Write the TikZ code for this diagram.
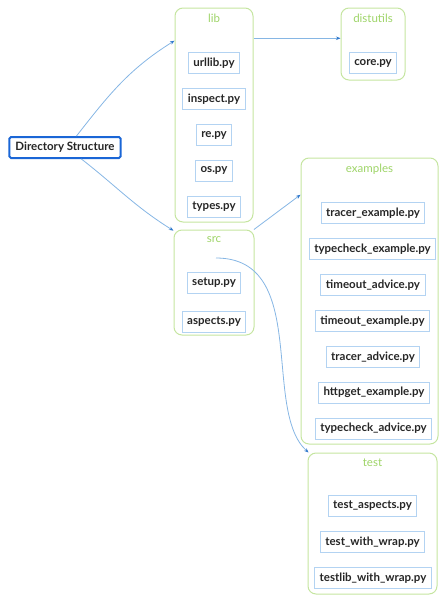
\documentclass[tikz,border=0pt]{standalone}
\usepackage{fontspec}
\setmainfont{Lato}
\usetikzlibrary{arrows.meta}
\definecolor{folderline}{HTML}{C5E5A0}
\definecolor{foldertext}{HTML}{9ED468}
\definecolor{fileline}{HTML}{B3D3F2}
\definecolor{rootline}{HTML}{1A66D6}
\definecolor{linkline}{HTML}{86B6E4}
\definecolor{linktip}{HTML}{2F78CC}
\tikzset{
  folder/.style={draw=folderline, line width=1pt, rounded corners=8pt},
  foldername/.style={text=foldertext, font=\fontsize{11.5}{13}\selectfont},
  file/.style={draw=fileline, line width=1pt, fill=white, inner xsep=5pt,
    minimum height=21pt, text=black!85, font=\fontsize{11.5}{13}\selectfont\bfseries},
  root/.style={draw=rootline, line width=2pt, rounded corners=1.5pt, fill=white,
    inner xsep=6pt, minimum height=21pt, text=black!85,
    font=\fontsize{11.5}{13}\selectfont\bfseries},
  link/.style={draw=linkline, line width=0.8pt,
    -{Stealth[length=4.5pt,width=3.5pt,color=linktip]}},
}

\begin{document}
\begin{tikzpicture}[x=1pt,y=1pt]
  \useasboundingbox (0,0) rectangle (440,-595);
  % folders
  \node[folder, minimum width=78pt, minimum height=214pt] (lib) at (214,-115) {};
  \node[folder, minimum width=64pt, minimum height=72pt] (dist) at (373,-44) {};
  \node[folder, minimum width=80pt, minimum height=105pt] (src) at (214,-282.5) {};
  \node[folder, minimum width=137pt, minimum height=286pt] (ex) at (369.5,-301) {};
  \node[folder, minimum width=129pt, minimum height=141pt] (test) at (372.5,-523.5) {};
  \node[foldername] (libname) at (214,-18) {lib};
  \node[foldername] (distname) at (373,-18) {distutils};
  \node[foldername] (srcname) at (214,-240) {src};
  \node[foldername] (exname) at (369.5,-169) {examples};
  \node[foldername] (testname) at (372.5,-463) {test};

  \node[root] (ds) at (65,-147.5) {Directory Structure};
  \coordinate (srcmid) at (216,-258);

  % links
  \draw[link] (ds.45) to[out=52,in=212] (lib.118);
  \draw[link] (ds.-35) to[out=-38,in=148] (src.128);
  \draw[link] (lib.east |- dist.170) -- (dist.170);
  \draw[link] (src.53) -- (ex.123);
  \draw[link] (srcmid) .. controls +(94,0) and +(-47,42) .. (test.132);

  % files
  \node[file] (urllib) at (214,-63) {urllib.py};
  \node[file] (inspect) at (214,-99) {inspect.py};
  \node[file] (re) at (214,-135) {re.py};
  \node[file] (os) at (214,-170.5) {os.py};
  \node[file] (types) at (214,-206.5) {types.py};
  \node[file] (core) at (373,-63) {core.py};
  \node[file] (setup) at (214,-283) {setup.py};
  \node[file] (aspects) at (214,-321.5) {aspects.py};
  \node[file] (ex1) at (373,-213) {tracer\_example.py};
  \node[file] (ex2) at (372.5,-249) {typecheck\_example.py};
  \node[file] (ex3) at (373,-285) {timeout\_advice.py};
  \node[file] (ex4) at (372.5,-321) {timeout\_example.py};
  \node[file] (ex5) at (373,-357) {tracer\_advice.py};
  \node[file] (ex6) at (374,-392.5) {httpget\_example.py};
  \node[file] (ex7) at (373.5,-428.5) {typecheck\_advice.py};
  \node[file] (test1) at (372.5,-506) {test\_aspects.py};
  \node[file] (test2) at (372.5,-542) {test\_with\_wrap.py};
  \node[file] (test3) at (373,-578) {testlib\_with\_wrap.py};
\end{tikzpicture}
\end{document}
